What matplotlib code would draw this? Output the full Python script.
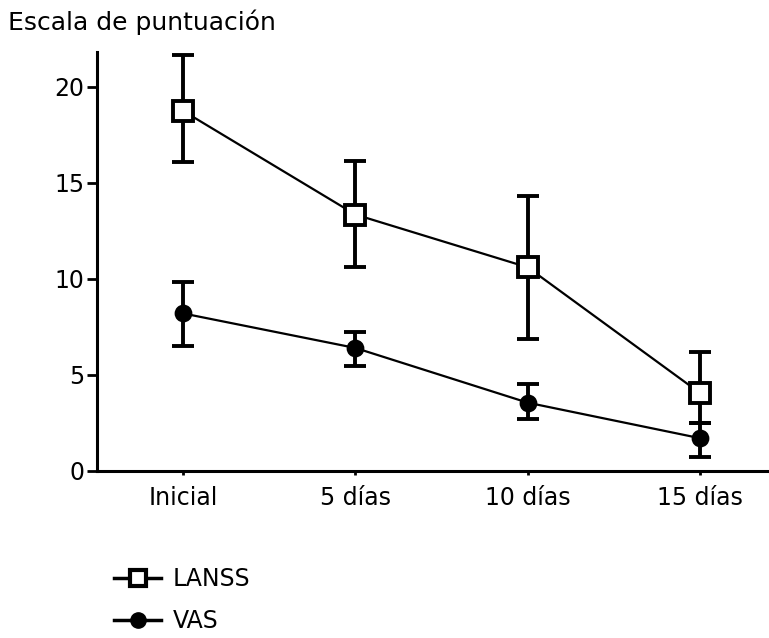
import numpy as np
import matplotlib.pyplot as plt
from matplotlib.lines import Line2D

categorias = ['Inicial', '5 días', '10 días', '15 días']

lanss = [18.75, 13.35, 10.6, 4.05]
lanss_sup = [21.65, 16.15, 14.3, 6.2]
lanss_inf = [16.1, 10.6, 6.85, 2.5]

vas = [8.2, 6.4, 3.55, 1.7]
vas_sup = [9.85, 7.25, 4.5, 2.5]
vas_inf = [6.5, 5.45, 2.7, 0.7]

fig = plt.figure(figsize=(7.69, 6.38), dpi=100)
ax = fig.add_axes([0.126, 0.262, 0.874, 0.656])

x = np.arange(len(categorias))

def serie(media, sup, inf, marker, fc, ms, label):
    media = np.array(media)
    err = [media - np.array(inf), np.array(sup) - media]
    ax.errorbar(x, media, yerr=err, color='black', lw=1.6, elinewidth=2.8,
                capsize=8, capthick=2.8, marker=marker, ms=ms, mfc=fc,
                mec='black', mew=2.8, label=label)

serie(lanss, lanss_sup, lanss_inf, 's', 'white', 15, 'LANSS')
serie(vas, vas_sup, vas_inf, 'o', 'black', 10, 'VAS')

ax.set_xlim(-0.5, 3.4)
ax.set_ylim(0, 21.8)
ax.set_xticks(x)
ax.set_xticklabels(categorias)
ax.set_yticks([0, 5, 10, 15, 20])
for s in ['top', 'right']:
    ax.spines[s].set_visible(False)
for s in ['left', 'bottom']:
    ax.spines[s].set_linewidth(2.2)
ax.tick_params(axis='y', length=7, width=2, labelsize=17, pad=2)
ax.tick_params(axis='x', length=3, width=2, labelsize=17, pad=8)

fig.text(0.01, 0.965, 'Escala de puntuación', fontsize=18, va='center', ha='left')

handles = [
    Line2D([], [], color='black', lw=2.5, marker='s', ms=12, mfc='white', mec='black', mew=3),
    Line2D([], [], color='black', lw=2.5, marker='o', ms=11, mfc='black', mec='black'),
]
fig.legend(handles, ['LANSS', 'VAS'], loc='upper left', bbox_to_anchor=(0.133, 0.13),
           frameon=False, fontsize=17, handlelength=2.0, handletextpad=0.5,
           labelspacing=0.78, borderpad=0)

fig.savefig('out.png', dpi=100)
